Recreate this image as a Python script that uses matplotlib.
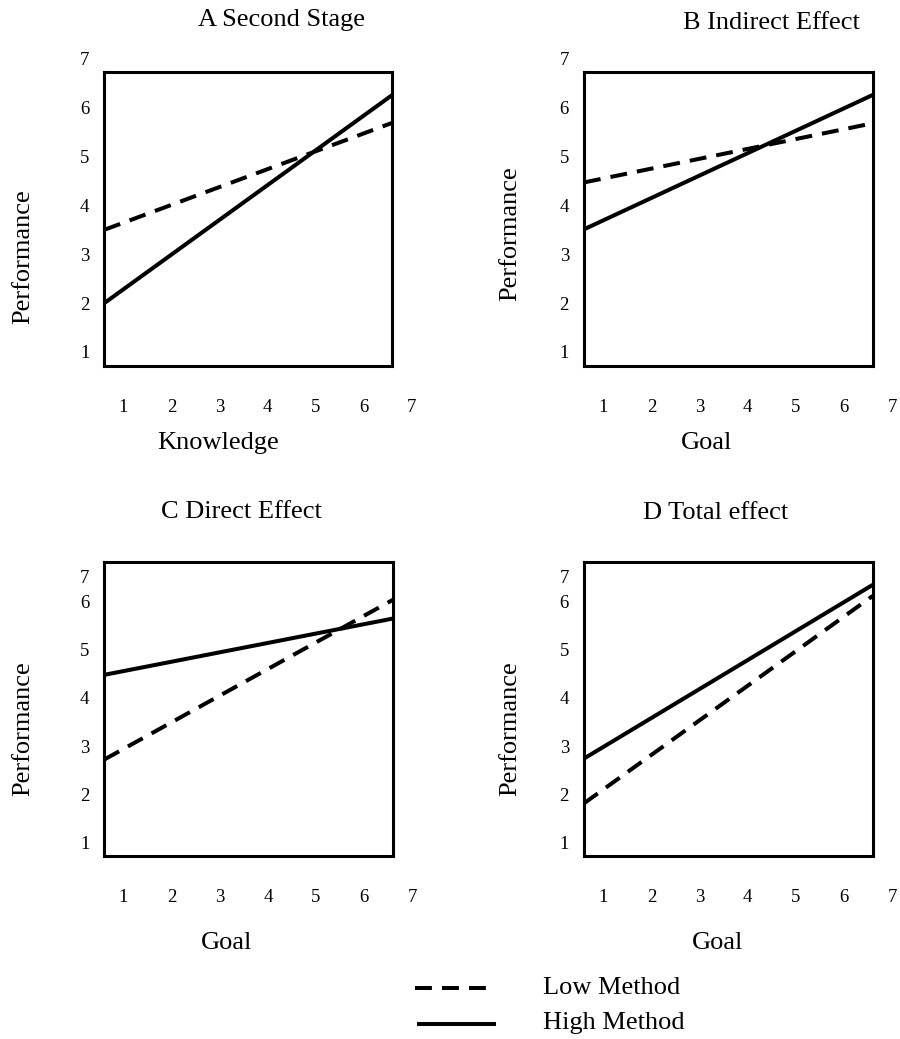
import matplotlib
matplotlib.use("Agg")
import matplotlib.pyplot as plt
from matplotlib.lines import Line2D

plt.rcParams['font.family'] = ['Liberation Serif', 'DejaVu Serif']

W, H = 900, 1039

titles = ["A Second Stage", "B Indirect Effect", "C Direct Effect", "D Total effect"]
x_names = ["Knowledge", "Goal", "Goal", "Goal"]
y_name = "Performance"
series_names = ["Low Method", "High Method"]
tick_text = ["1", "2", "3", "4", "5", "6", "7"]

# values at the left and right edge of each box
x_ends = [0.6, 6.6]
low_A = [3.5, 5.69]
high_A = [2.0, 6.26]
low_B = [4.47, 5.68]
high_B = [3.51, 6.26]
low_C = [2.72, 6.04]
high_C = [4.48, 5.65]
low_D = [1.81, 6.12]
high_D = [2.74, 6.35]

lows = [low_A, low_B, low_C, low_D]
highs = [high_A, high_B, high_C, high_D]


def px(x, y):
    return x / W, 1 - y / H


# layout in pixels: box left, top, right, bottom
boxes = [(104.3, 72, 392.3, 366), (584, 72, 872.7, 366),
         (104.3, 562, 393, 856), (584, 562, 872.7, 856)]
ylims = [(0.713, 6.73), (0.713, 6.73), (0.715, 6.825), (0.715, 6.825)]
ytick_pos = [[1, 2, 3, 4, 5, 6, 7], [1, 2, 3, 4, 5, 6, 7],
             [1, 2, 3, 4, 5, 6, 6.52], [1, 2, 3, 4, 5, 6, 6.52]]
title_pos = [(282, 20), (771.5, 22.7), (241.8, 511.7), (715.3, 513.3)]
xlabel_pos = [(217.7, 443), (706.3, 443), (226.7, 943), (717.7, 943)]
ylabel_pos = [(23, 257), (510, 234), (23, 729), (510, 729)]

lw = 2.9
dash = (4.2, 2.5)

fig = plt.figure(figsize=(W / 100, H / 100), dpi=100)

for i in range(4):
    l, t, r, b = boxes[i]
    ax = fig.add_axes([l / W, 1 - b / H, (r - l) / W, (b - t) / H])
    ax.set_xlim(0.6, 6.6)
    ax.set_ylim(*ylims[i])
    ax.set_xticks([])
    ax.set_yticks([])
    for s in ax.spines.values():
        s.set_linewidth(2.2)

    ax.plot(x_ends, lows[i], color='black', lw=lw, linestyle=(0, dash))
    ax.plot(x_ends, highs[i], color='black', lw=lw, solid_capstyle='butt')

    for k, lbl in enumerate(tick_text):
        ax.annotate(lbl, xy=(k + 1, 0), xycoords=ax.get_xaxis_transform(),
                    xytext=(0, -39 * 0.72), textcoords='offset points',
                    ha='center', va='center_baseline', fontsize=13.5,
                    annotation_clip=False)
        ax.annotate(lbl, xy=(0, ytick_pos[i][k]), xycoords=ax.get_yaxis_transform(),
                    xytext=(-15 * 0.72, 0), textcoords='offset points',
                    ha='right', va='center_baseline', fontsize=13.5,
                    annotation_clip=False)

    fig.text(*px(*title_pos[i]), titles[i], ha='center', va='center', fontsize=19)
    fig.text(*px(*xlabel_pos[i]), x_names[i], ha='center', va='center', fontsize=19)
    fig.text(*px(*ylabel_pos[i]), y_name, ha='center', va='center',
             rotation=90, fontsize=19)

# legend at the bottom
x0, y0 = px(415, 988)
x1, _ = px(487, 988)
fig.add_artist(Line2D([x0, x1], [y0, y0], transform=fig.transFigure,
                      color='black', lw=lw, linestyle=(0, dash)))
x0, y1 = px(417, 1024)
x1, _ = px(496, 1024)
fig.add_artist(Line2D([x0, x1], [y1, y1], transform=fig.transFigure,
                      color='black', lw=lw, solid_capstyle='butt'))
fig.text(*px(543, 988), series_names[0], ha='left', va='center', fontsize=19)
fig.text(*px(543, 1023), series_names[1], ha='left', va='center', fontsize=19)

fig.savefig("out.png", dpi=100)
